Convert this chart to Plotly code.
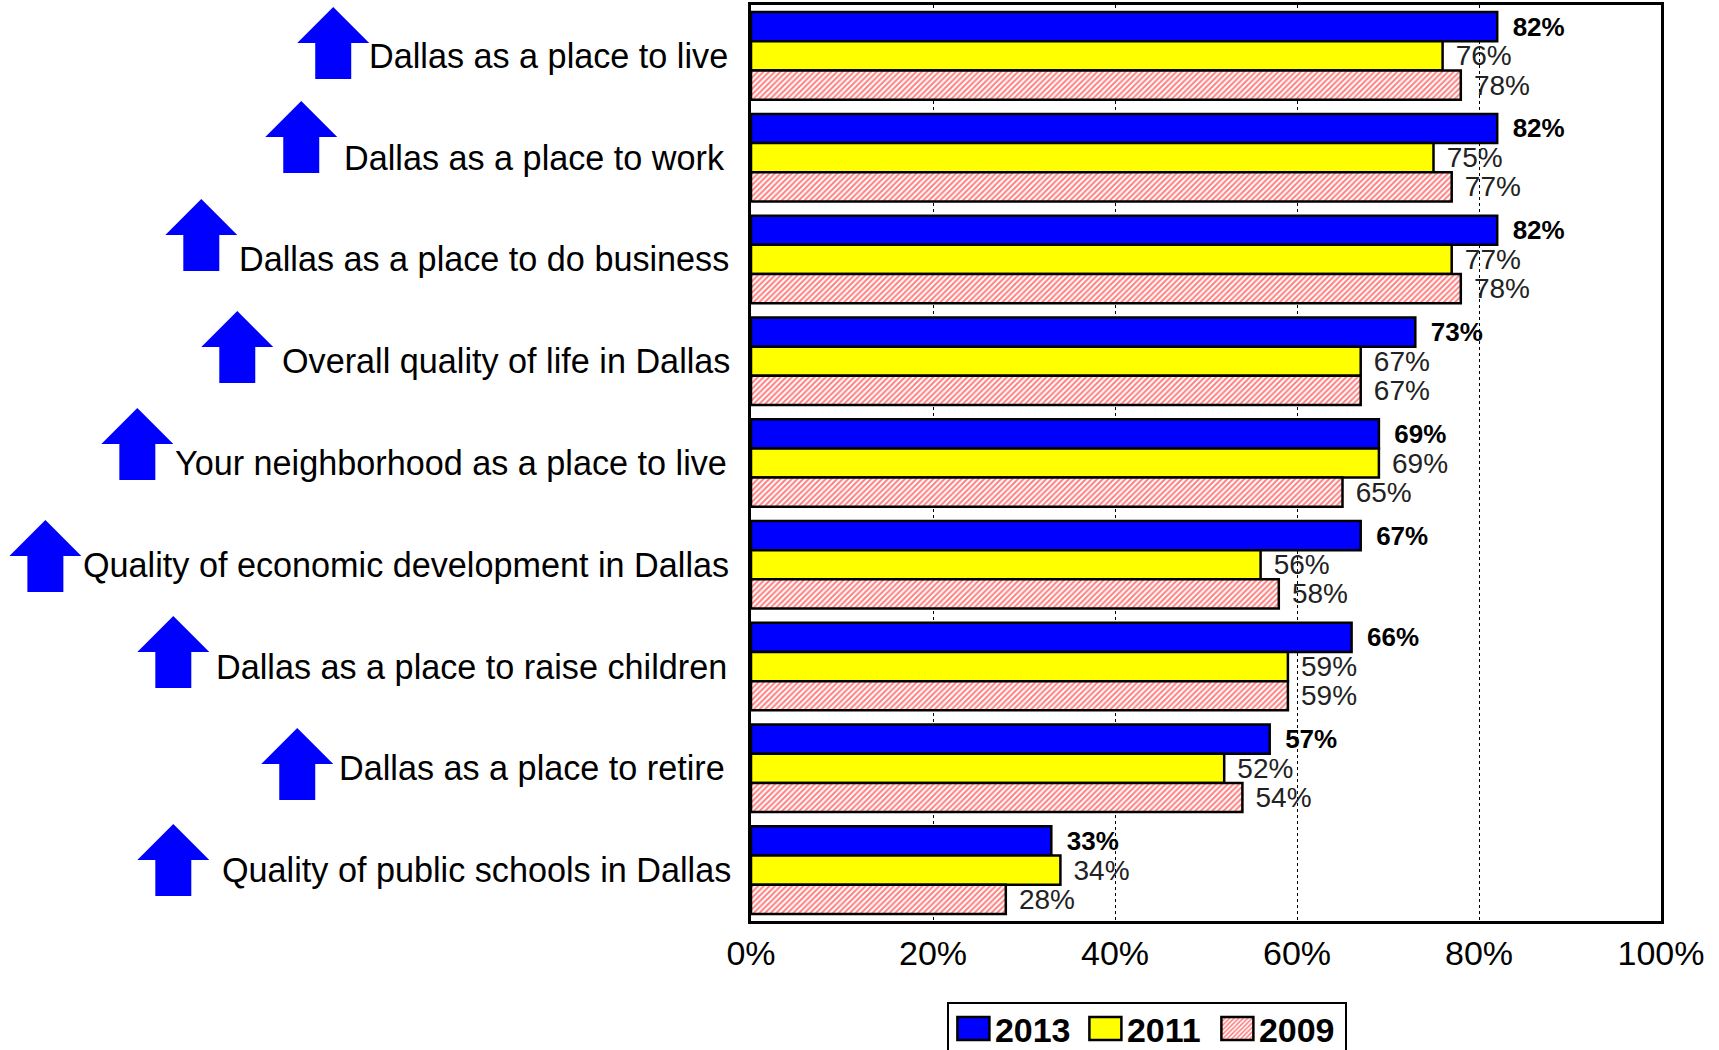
import plotly.graph_objects as go

categories = [
    "Dallas as a place to live",
    "Dallas as a place to work",
    "Dallas as a place to do business",
    "Overall quality of life in Dallas",
    "Your neighborhood as a place to live",
    "Quality of economic development in Dallas",
    "Dallas as a place to raise children",
    "Dallas as a place to retire",
    "Quality of public schools in Dallas",
]
values_2013 = [82, 82, 82, 73, 69, 67, 66, 57, 33]
values_2011 = [76, 75, 77, 67, 69, 56, 59, 52, 34]
values_2009 = [78, 77, 78, 67, 65, 58, 59, 54, 28]
x_ticks = [0, 20, 40, 60, 80, 100]

# page layout, in pixels
W, H = 1719, 1050
L, R, T, B = 751, 1661.5, 5, 921
label_right = [730, 727, 731, 732, 729, 731, 729, 727, 733]
arrow_cx = [333, 301, 201, 237, 137, 45, 173, 297, 173]
arrow_top = [7, 101, 199, 311, 408, 520, 616, 728, 824]


def px(x):
    return (x - L) / (R - L)


def py(y):
    return 1 - (y - T) / (B - T)


def labels(vals, gap):
    return [gap + "%d%%" % v for v in vals]


fig = go.Figure()
fig.add_bar(name="2013", y=categories, x=values_2013, orientation="h",
            marker=dict(color="#0000FF", line=dict(color="black", width=2.5)),
            text=labels(values_2013, "\u00a0\u2009"), textposition="outside", cliponaxis=False,
            constraintext="none", textfont=dict(size=26, color="black", weight="bold"))
fig.add_bar(name="2011", y=categories, x=values_2011, orientation="h",
            marker=dict(color="#FFFF00", line=dict(color="black", width=2.5)),
            text=labels(values_2011, "\u00a0\u200a"), textposition="outside", cliponaxis=False,
            constraintext="none", textfont=dict(size=28, color="#222222"))
fig.add_bar(name="2009", y=categories, x=values_2009, orientation="h",
            marker=dict(color="white", line=dict(color="black", width=2.5),
                        pattern=dict(shape="/", fgcolor="#FF0000", bgcolor="white",
                                     size=4, solidity=0.5)),
            text=labels(values_2009, "\u00a0\u200a"), textposition="outside", cliponaxis=False,
            constraintext="none", textfont=dict(size=28, color="#222222"))

annotations = [
    dict(text=c, xref="paper", yref="y", x=0, y=c, xanchor="right", yanchor="middle",
         xshift=r - L, yshift=0, showarrow=False,
         font=dict(size=34.2, color="black"))
    for c, r in zip(categories, label_right)
]

shapes = []
for cx, top in zip(arrow_cx, arrow_top):
    pts = [(cx, top), (cx + 36, top + 36), (cx + 18, top + 36), (cx + 18, top + 72),
           (cx - 18, top + 72), (cx - 18, top + 36), (cx - 36, top + 36)]
    path = "M " + " L ".join("%.5f,%.5f" % (px(a), py(b)) for a, b in pts) + " Z"
    shapes.append(dict(type="path", xref="paper", yref="paper", path=path,
                       fillcolor="#0000FF", line=dict(width=0), layer="above"))

fig.update_layout(
    width=W, height=H, paper_bgcolor="white", plot_bgcolor="white",
    margin=dict(l=L, r=W - R, t=T, b=H - B, autoexpand=False),
    font=dict(family="Liberation Sans, Arial, sans-serif", color="black"),
    barmode="group", bargap=0.14, bargroupgap=0,
    annotations=annotations, shapes=shapes,
    xaxis=dict(range=[0, 100], tickvals=x_ticks, ticktext=["%d%%" % t for t in x_ticks],
               tickfont=dict(size=34, color="black"), ticks="", ticklen=0,
               showgrid=True, gridcolor="black", griddash="3px,3px", gridwidth=1,
               zeroline=False, showline=True, linecolor="black", linewidth=2.5, mirror=True),
    yaxis=dict(type="category", autorange="reversed", showticklabels=False, ticks="",
               showgrid=False, zeroline=False, showline=True, linecolor="black",
               linewidth=2.5, mirror=True),
    legend=dict(orientation="h", xref="paper", yref="paper", x=px(947), y=py(1002),
                xanchor="left", yanchor="top", bgcolor="white", bordercolor="black",
                borderwidth=2, font=dict(size=34, color="black", weight="bold"),
                itemwidth=33, traceorder="normal", entrywidth=84, tracegroupgap=0),
)

# Plotly draws bar legend keys at a fixed small size: enlarge them to the reference's,
# and nudge the legend content to sit where the reference has it inside its box.
legend_fix = """
document.querySelectorAll('.legend .legendpoints path').forEach(function (p) {
    p.setAttribute('d', 'M16,11.5H-16V-11.5H16Z');
});
document.querySelectorAll('.legend .scrollbox').forEach(function (g) {
    g.setAttribute('transform', 'translate(3,-4)');
});
"""

fig.write_html("out.html", config={"displayModeBar": False},
               post_script="document.body.style.margin='0';" + legend_fix)
